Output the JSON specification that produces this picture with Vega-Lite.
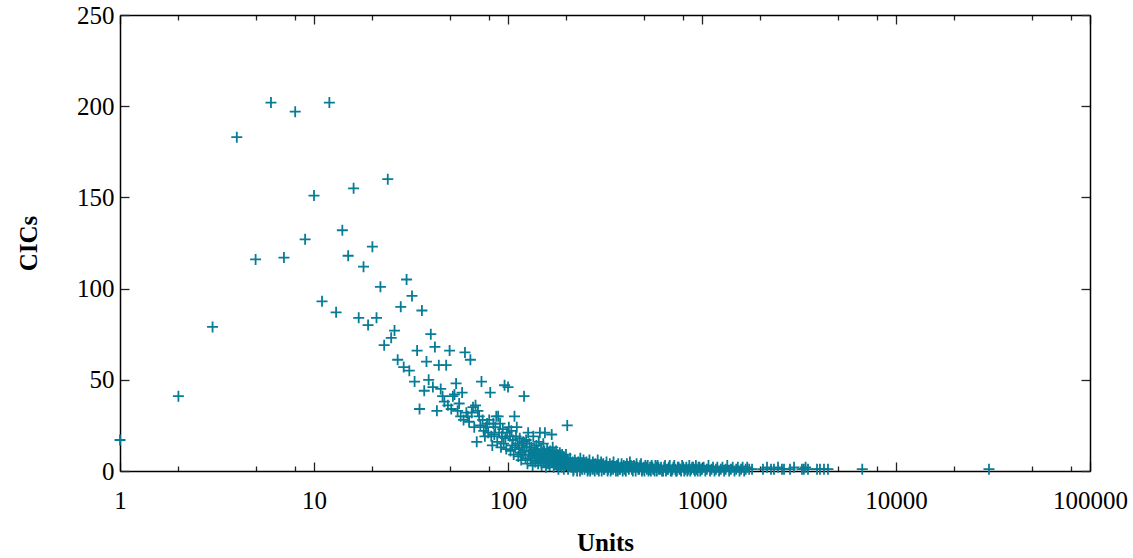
{
"$schema": "https://vega.github.io/schema/vega-lite/v6.json",
"width": 970, "height": 456,
"autosize": "none",
"padding": {"left": 120, "top": 15, "right": 43, "bottom": 87},
"background": "white",
"config": {
  "view": {"stroke": null},
  "font": "Liberation Serif",
  "axis": {"grid": false, "labelFont": "Liberation Serif", "labelFontSize": 25, "labelColor": "#000", "titleFont": "Liberation Serif", "titleFontSize": 25, "titleFontWeight": "bold", "titleColor": "#000", "domainColor": "#000", "domainWidth": 1.5, "tickColor": "#222", "tickWidth": 1.3}
},
"data": {"values": [
{"u":1,"c":17},{"u":2,"c":41},{"u":3,"c":79},{"u":4,"c":183},{"u":5,"c":116},{"u":6,"c":202},{"u":7,"c":117},{"u":8,"c":197},{"u":9,"c":127},{"u":10,"c":151},
{"u":11,"c":93},{"u":12,"c":202},{"u":13,"c":87},{"u":14,"c":132},{"u":15,"c":118},{"u":16,"c":155},{"u":17,"c":84},{"u":18,"c":112},{"u":19,"c":80},{"u":20,"c":123},
{"u":21,"c":84},{"u":22,"c":101},{"u":23,"c":69},{"u":24,"c":160},{"u":25,"c":73},{"u":26,"c":77},{"u":27,"c":61},{"u":28,"c":90},{"u":29,"c":57},{"u":30,"c":105},
{"u":31,"c":55},{"u":32,"c":96},{"u":33,"c":49},{"u":34,"c":66},{"u":35,"c":34},{"u":36,"c":88},{"u":37,"c":44},{"u":38,"c":60},{"u":39,"c":50},{"u":40,"c":75},
{"u":41,"c":46},{"u":42,"c":68},{"u":43,"c":33},{"u":44,"c":58},{"u":45,"c":45},{"u":46,"c":41},{"u":47,"c":38},{"u":48,"c":58},{"u":49,"c":36},{"u":50,"c":66},
{"u":51,"c":34},{"u":52,"c":41},{"u":53,"c":42},{"u":54,"c":48},{"u":55,"c":33},{"u":56,"c":37},{"u":57,"c":30},{"u":58,"c":43},{"u":59,"c":28},{"u":60,"c":65},
{"u":61,"c":32},{"u":62,"c":30},{"u":63,"c":27},{"u":64,"c":61},{"u":65,"c":32},{"u":66,"c":35},{"u":67,"c":24},{"u":68,"c":36},{"u":69,"c":16},{"u":70,"c":33},
{"u":71,"c":30},{"u":72,"c":25},{"u":73,"c":49},{"u":74,"c":28},{"u":75,"c":22},{"u":76,"c":19},{"u":77,"c":24},{"u":78,"c":26},{"u":79,"c":21},{"u":80,"c":28},
{"u":81,"c":43},{"u":82,"c":19},{"u":83,"c":14},{"u":84,"c":26},{"u":85,"c":20},{"u":86,"c":24},{"u":87,"c":30},{"u":88,"c":16},{"u":89,"c":30},{"u":90,"c":21},
{"u":91,"c":26},{"u":92,"c":13},{"u":93,"c":19},{"u":94,"c":23},{"u":95,"c":15},{"u":96,"c":47},{"u":97,"c":18},{"u":98,"c":12},{"u":99,"c":21},{"u":100,"c":46},
{"u":101,"c":24},{"u":102,"c":19},{"u":103,"c":11},{"u":104,"c":22},{"u":105,"c":14},{"u":106,"c":17},{"u":107,"c":9},{"u":108,"c":30},{"u":109,"c":13},{"u":110,"c":19},
{"u":111,"c":24},{"u":112,"c":15},{"u":113,"c":8},{"u":114,"c":12},{"u":115,"c":18},{"u":116,"c":10},{"u":117,"c":6},{"u":118,"c":14},{"u":119,"c":9},{"u":120,"c":16},
{"u":121,"c":41},{"u":122,"c":11},{"u":123,"c":7},{"u":124,"c":17},{"u":125,"c":13},{"u":126,"c":4},{"u":127,"c":21},{"u":128,"c":9},{"u":129,"c":15},{"u":130,"c":11},
{"u":131,"c":6},{"u":132,"c":13},{"u":133,"c":8},{"u":134,"c":3},{"u":135,"c":19},{"u":136,"c":10},{"u":137,"c":12},{"u":138,"c":5},{"u":139,"c":9},{"u":140,"c":14},
{"u":141,"c":7},{"u":142,"c":11},{"u":143,"c":4},{"u":144,"c":16},{"u":145,"c":9},{"u":146,"c":21},{"u":147,"c":6},{"u":148,"c":12},{"u":149,"c":3},{"u":150,"c":10},
{"u":151,"c":8},{"u":152,"c":15},{"u":153,"c":5},{"u":154,"c":11},{"u":155,"c":21},{"u":156,"c":7},{"u":157,"c":2},{"u":158,"c":9},{"u":159,"c":12},{"u":160,"c":6},
{"u":161,"c":4},{"u":162,"c":10},{"u":163,"c":8},{"u":164,"c":3},{"u":165,"c":11},{"u":166,"c":6},{"u":167,"c":9},{"u":168,"c":20},{"u":169,"c":5},{"u":170,"c":13},
{"u":171,"c":7},{"u":172,"c":2},{"u":173,"c":10},{"u":174,"c":6},{"u":175,"c":8},{"u":176,"c":4},{"u":177,"c":11},{"u":178,"c":7},{"u":179,"c":3},{"u":180,"c":9},
{"u":181,"c":5},{"u":182,"c":1},{"u":183,"c":8},{"u":184,"c":6},{"u":185,"c":10},{"u":186,"c":3},{"u":187,"c":7},{"u":188,"c":5},{"u":189,"c":2},{"u":190,"c":9},
{"u":191,"c":6},{"u":192,"c":4},{"u":193,"c":8},{"u":194,"c":1},{"u":195,"c":7},{"u":196,"c":5},{"u":197,"c":3},{"u":198,"c":6},{"u":199,"c":9},{"u":200,"c":4},
{"u":202,"c":25},{"u":203,"c":6},{"u":204,"c":1},{"u":206,"c":3},{"u":209,"c":7},{"u":211,"c":4},{"u":212,"c":2},{"u":215,"c":5},{"u":217,"c":0},{"u":218,"c":1},
{"u":221,"c":6},{"u":223,"c":2},{"u":224,"c":4},{"u":227,"c":0},{"u":229,"c":3},{"u":230,"c":5},{"u":233,"c":3},{"u":235,"c":0},{"u":236,"c":7},{"u":239,"c":2},
{"u":241,"c":1},{"u":242,"c":4},{"u":245,"c":6},{"u":247,"c":3},{"u":248,"c":1},{"u":251,"c":3},{"u":253,"c":2},{"u":254,"c":5},{"u":257,"c":0},{"u":259,"c":1},
{"u":260,"c":4},{"u":263,"c":6},{"u":265,"c":0},{"u":266,"c":2},{"u":270,"c":3},{"u":272,"c":1},{"u":274,"c":5},{"u":278,"c":1},{"u":280,"c":0},{"u":282,"c":4},
{"u":286,"c":2},{"u":288,"c":1},{"u":290,"c":6},{"u":294,"c":0},{"u":296,"c":2},{"u":298,"c":3},{"u":302,"c":5},{"u":304,"c":0},{"u":306,"c":2},{"u":310,"c":4},
{"u":312,"c":1},{"u":314,"c":1},{"u":318,"c":3},{"u":320,"c":2},{"u":322,"c":5},{"u":326,"c":0},{"u":328,"c":1},{"u":330,"c":2},{"u":335,"c":4},{"u":338,"c":0},
{"u":340,"c":1},{"u":345,"c":3},{"u":348,"c":1},{"u":350,"c":5},{"u":355,"c":2},{"u":358,"c":2},{"u":360,"c":0},{"u":365,"c":3},{"u":368,"c":0},{"u":370,"c":4},
{"u":375,"c":1},{"u":378,"c":1},{"u":380,"c":2},{"u":385,"c":4},{"u":388,"c":2},{"u":390,"c":0},{"u":395,"c":3},{"u":398,"c":1},{"u":400,"c":2},{"u":405,"c":0},
{"u":410,"c":4},{"u":415,"c":2},{"u":420,"c":1},{"u":425,"c":5},{"u":430,"c":3},{"u":435,"c":1},{"u":440,"c":0},{"u":445,"c":3},{"u":450,"c":2},{"u":455,"c":0},
{"u":460,"c":4},{"u":465,"c":2},{"u":470,"c":1},{"u":475,"c":1},{"u":480,"c":3},{"u":485,"c":4},{"u":490,"c":0},{"u":495,"c":1},{"u":500,"c":2},{"u":505,"c":0},
{"u":510,"c":3},{"u":515,"c":2},{"u":520,"c":1},{"u":525,"c":3},{"u":530,"c":0},{"u":535,"c":1},{"u":540,"c":2},{"u":545,"c":0},{"u":550,"c":3},{"u":555,"c":2},
{"u":560,"c":1},{"u":565,"c":1},{"u":570,"c":0},{"u":575,"c":3},{"u":580,"c":2},{"u":585,"c":0},{"u":590,"c":3},{"u":595,"c":2},{"u":600,"c":1},{"u":608,"c":1},
{"u":615,"c":2},{"u":622,"c":0},{"u":630,"c":0},{"u":638,"c":2},{"u":645,"c":3},{"u":652,"c":0},{"u":660,"c":1},{"u":668,"c":1},{"u":675,"c":2},{"u":682,"c":3},
{"u":690,"c":0},{"u":698,"c":0},{"u":705,"c":1},{"u":712,"c":2},{"u":720,"c":3},{"u":728,"c":1},{"u":735,"c":0},{"u":742,"c":0},{"u":750,"c":2},{"u":758,"c":2},
{"u":765,"c":1},{"u":772,"c":1},{"u":780,"c":0},{"u":790,"c":3},{"u":800,"c":2},{"u":810,"c":0},{"u":820,"c":1},{"u":830,"c":2},{"u":840,"c":0},{"u":850,"c":1},
{"u":860,"c":3},{"u":870,"c":0},{"u":880,"c":1},{"u":890,"c":2},{"u":900,"c":2},{"u":910,"c":1},{"u":920,"c":0},{"u":930,"c":3},{"u":940,"c":1},{"u":950,"c":0},
{"u":960,"c":2},{"u":970,"c":2},{"u":980,"c":0},{"u":990,"c":1},{"u":1000,"c":1},{"u":1020,"c":2},{"u":1040,"c":0},{"u":1060,"c":1},{"u":1080,"c":3},{"u":1100,"c":0},
{"u":1120,"c":1},{"u":1140,"c":2},{"u":1160,"c":0},{"u":1180,"c":1},{"u":1200,"c":2},{"u":1225,"c":0},{"u":1250,"c":1},{"u":1275,"c":2},{"u":1300,"c":0},{"u":1325,"c":1},
{"u":1350,"c":3},{"u":1380,"c":0},{"u":1410,"c":1},{"u":1440,"c":2},{"u":1470,"c":0},{"u":1500,"c":1},{"u":1530,"c":2},{"u":1560,"c":0},{"u":1590,"c":1},{"u":1620,"c":2},
{"u":1650,"c":0},{"u":1680,"c":1},{"u":1710,"c":2},{"u":1750,"c":1},{"u":1811,"c":1},{"u":2063,"c":1},{"u":2163,"c":2},{"u":2268,"c":1},{"u":2349,"c":1},{"u":2465,"c":2},
{"u":2583,"c":1},{"u":2647,"c":1},{"u":2842,"c":1},{"u":2981,"c":2},{"u":3275,"c":1},{"u":3350,"c":1},{"u":3420,"c":2},{"u":3519,"c":1},{"u":3916,"c":1},{"u":4055,"c":1},
{"u":4254,"c":1},{"u":4460,"c":1},{"u":6700,"c":1},{"u":30150,"c":1}
]},
"layer": [
  {
    "mark": {"type": "point", "shape": "M-1,0H1M0,-1V1", "size": 121, "strokeWidth": 1.8, "color": "#077c97", "opacity": 1, "filled": false},
    "encoding": {
      "x": {"field": "u", "type": "quantitative",
        "scale": {"type": "log", "domain": [1, 100000], "nice": false},
        "axis": {"orient": "bottom", "title": "Units",
          "values": [1,2,5,8,10,20,50,80,100,200,500,800,1000,2000,5000,8000,10000,20000,50000,80000,100000],
          "labelExpr": "indexof([1,10,100,1000,10000,100000], datum.value) >= 0 ? format(datum.value, 'd') : ''",
          "tickSize": {"condition": {"test": "indexof([1,10,100,1000,10000,100000], datum.value) >= 0", "value": -9}, "value": -5},
          "labelPadding": 26, "labelFlush": false, "labelOverlap": false, "titlePadding": 13}},
      "y": {"field": "c", "type": "quantitative",
        "scale": {"domain": [0, 250], "nice": false, "zero": false},
        "axis": {"orient": "left", "title": "CICs", "values": [0,50,100,150,200,250], "tickSize": -9, "labelPadding": 15, "titlePadding": 35}}
    }
  },
  {
    "mark": {"type": "point", "opacity": 0},
    "encoding": {
      "x": {"field": "u", "type": "quantitative",
        "scale": {"type": "log", "domain": [1, 100000], "nice": false},
        "axis": {"orient": "top", "title": null, "labels": false,
          "values": [1,2,5,8,10,20,50,80,100,200,500,800,1000,2000,5000,8000,10000,20000,50000,80000,100000],
          "tickSize": {"condition": {"test": "indexof([1,10,100,1000,10000,100000], datum.value) >= 0", "value": -9}, "value": -5}}},
      "y": {"field": "c", "type": "quantitative",
        "scale": {"domain": [0, 250], "nice": false, "zero": false},
        "axis": {"orient": "right", "title": null, "labels": false, "values": [0,50,100,150,200,250], "tickSize": -9}}
    }
  }
],
"resolve": {"axis": {"x": "independent", "y": "independent"}}
}
